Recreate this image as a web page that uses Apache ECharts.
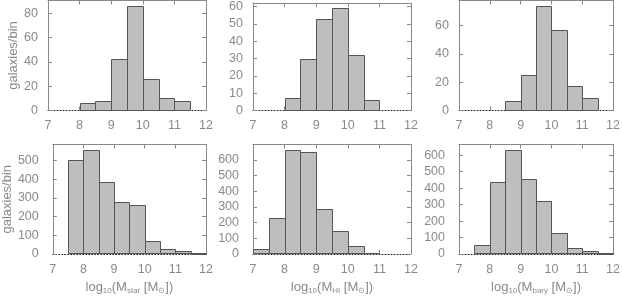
<!DOCTYPE html>
<html><head><meta charset="utf-8">
<script src="https://cdn.jsdelivr.net/npm/echarts@6/dist/echarts.min.js"></script>
<style>html,body{margin:0;padding:0;background:#fff}#c{width:623px;height:296px}</style>
</head><body><div id="c"></div>
<script>
// Bin left edges (log10 mass), bin width 0.5
const binLeft = [7.0, 7.5, 8.0, 8.5, 9.0, 9.5, 10.0, 10.5, 11.0, 11.5];
const binWidth = 0.5;
// Top row (galaxies/bin)
const topStar = [null, null, 6, 8, 42, 86, 26, 10, 8, null];
const topHI   = [null, null, 7, 30, 53, 59, 32, 6, null, null];
const topBary = [null, null, null, 7, 25, 74, 57, 17, 9, null];
// Bottom row (galaxies/bin)
const botStar = [null, 500, 557, 382, 276, 264, 67, 27, 16, 2];
const botHI   = [34, 227, 664, 651, 286, 147, 48, 8, null, null];
const botBary = [null, 56, 436, 633, 454, 319, 127, 36, 18, 2];
// Axis ticks
const xTicks = [7, 8, 9, 10, 11, 12];
const yIntervals = [20, 10, 20, 100, 100, 100];
const xTitles = [null, null, null, 'star', 'HI', 'bary'];

const panels = [topStar, topHI, topBary, botStar, botHI, botBary];
const grids = [
  {left: 48, top: 0.5, width: 158, height: 110},
  {left: 253, top: 0.5, width: 158, height: 110},
  {left: 459, top: 0.5, width: 157, height: 110},
  {left: 48, top: 144.5, width: 158, height: 110},
  {left: 253, top: 144.5, width: 158, height: 110},
  {left: 459, top: 144.5, width: 157, height: 110}
];
const FONT = '"Liberation Sans", Arial, sans-serif';
const AX = '#888';
const TXT = '#8a8a8a';

const option = {animation: false, grid: grids, xAxis: [], yAxis: [], series: []};

panels.forEach((vals, i) => {
  const ymax = Math.max(...vals.filter(v => v != null)) * 1.05;
  const xName = xTitles[i] ? '{a|log}{s|10}{a|(M}{s|' + xTitles[i] + '}{a| [M}{s|⊙}{a|])}' : '';
  const yMargin = i < 3 ? 10 : 14;
  // bottom x axis (dotted baseline)
  option.xAxis.push({
    type: 'value', gridIndex: i, min: xTicks[0], max: xTicks[xTicks.length - 1], interval: 1,
    position: 'bottom',
    axisLine: {onZero: false, lineStyle: {color: '#222', type: [1, 2], width: 1}},
    axisTick: {inside: true, length: 4, lineStyle: {color: AX}},
    axisLabel: {color: TXT, fontFamily: FONT, fontSize: 12.5, margin: 9},
    splitLine: {show: false},
    name: xName, nameLocation: 'middle', nameGap: 25,
    nameTextStyle: {
      color: TXT, fontFamily: FONT,
      rich: {a: {fontSize: 13, color: TXT, fontFamily: FONT}, s: {fontSize: 8, color: TXT, fontFamily: FONT, padding: [8, 0, 0, 0]}}
    }
  });
  // top x axis (frame)
  option.xAxis.push({
    type: 'value', gridIndex: i, min: xTicks[0], max: xTicks[xTicks.length - 1], interval: 1,
    position: 'top',
    axisLine: {onZero: false, lineStyle: {color: AX, width: 1}},
    axisTick: {inside: true, length: 4, lineStyle: {color: AX}},
    axisLabel: {show: false}, splitLine: {show: false}
  });
  // left y axis
  option.yAxis.push({
    type: 'value', gridIndex: i, min: 0, max: ymax, interval: yIntervals[i], position: 'left',
    axisLine: {show: true, onZero: false, lineStyle: {color: AX, width: 1}},
    axisTick: {show: true, inside: true, length: 4, lineStyle: {color: AX}},
    axisLabel: {color: TXT, fontFamily: FONT, fontSize: 12.5, margin: yMargin, showMaxLabel: false},
    splitLine: {show: false},
    name: (i % 3 === 0) ? 'galaxies/bin' : '', nameLocation: 'middle', nameGap: 28,
    nameTextStyle: {color: TXT, fontFamily: FONT, fontSize: 13}
  });
  // right y axis (frame)
  option.yAxis.push({
    type: 'value', gridIndex: i, min: 0, max: ymax, interval: yIntervals[i], position: 'right',
    axisLine: {show: true, onZero: false, lineStyle: {color: AX, width: 1}},
    axisTick: {show: true, inside: true, length: 4, lineStyle: {color: AX}},
    axisLabel: {show: false}, splitLine: {show: false}
  });
  const data = [];
  binLeft.forEach((b, k) => { if (vals[k] != null) data.push([b, b + binWidth, vals[k]]); });
  option.series.push({
    type: 'custom', xAxisIndex: 2 * i, yAxisIndex: 2 * i,
    encode: {x: [0, 1], y: 2},
    data: data,
    renderItem: function (params, api) {
      const p0 = api.coord([api.value(0), api.value(2)]);
      const p1 = api.coord([api.value(1), 0]);
      const x0 = Math.round(p0[0]) + 0.5, x1 = Math.round(p1[0]) + 0.5;
      const y0 = Math.round(p0[1]) + 0.5, y1 = Math.round(p1[1]) - 0.5;
      return {type: 'rect', shape: {x: x0, y: y0, width: x1 - x0, height: y1 - y0},
        style: {fill: '#bebebe', stroke: '#555', lineWidth: 1}};
    }
  });
});

const chart = echarts.init(document.getElementById('c'), null, {renderer: 'canvas'});
chart.setOption(option);
</script></body></html>
